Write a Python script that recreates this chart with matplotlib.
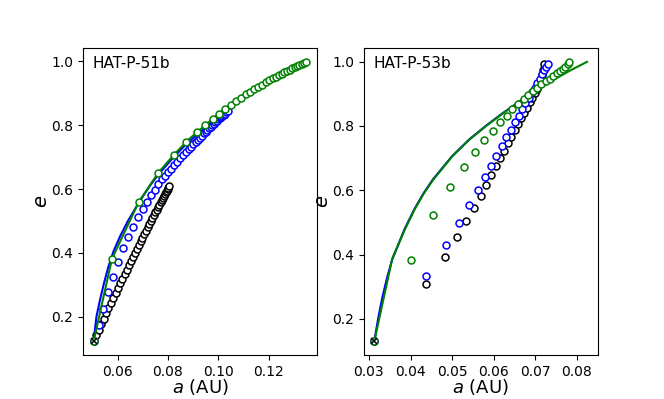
"""Eccentricity vs semi-major axis tracks for HAT-P-51b and HAT-P-53b."""

import matplotlib
matplotlib.use("Agg")
import matplotlib.pyplot as plt

# ---- HAT-P-51b ----
p51_start = (0.0505, 0.124)

p51_black_a = [0.0505, 0.0516, 0.0525, 0.0535, 0.0545, 0.0554, 0.0564, 0.0573, 0.0582,
               0.0592, 0.0601, 0.0610, 0.0619, 0.0628, 0.0636, 0.0645, 0.0653, 0.0661,
               0.0669, 0.0677, 0.0684, 0.0692, 0.0699, 0.0706, 0.0713, 0.0720, 0.0726,
               0.0732, 0.0738, 0.0744, 0.0750, 0.0756, 0.0761, 0.0766, 0.0771, 0.0776,
               0.0780, 0.0784, 0.0789, 0.0793, 0.0796, 0.0799, 0.0802, 0.0805]
p51_black_e = [0.124, 0.143, 0.160, 0.177, 0.194, 0.211, 0.227, 0.243, 0.259,
               0.275, 0.290, 0.305, 0.320, 0.334, 0.348, 0.362, 0.375, 0.388,
               0.401, 0.413, 0.425, 0.437, 0.448, 0.459, 0.470, 0.480, 0.490,
               0.500, 0.509, 0.518, 0.527, 0.535, 0.543, 0.551, 0.558, 0.565,
               0.572, 0.578, 0.584, 0.590, 0.595, 0.600, 0.604, 0.608]

p51_blue_a = [0.0505, 0.0528, 0.0544, 0.0561, 0.0581, 0.0602, 0.0623, 0.0643, 0.0663,
              0.0683, 0.0701, 0.0718, 0.0734, 0.0748, 0.0762, 0.0775, 0.0788, 0.0800,
              0.0813, 0.0826, 0.0838, 0.0850, 0.0861, 0.0872, 0.0882, 0.0892, 0.0901,
              0.0910, 0.0919, 0.0927, 0.0935, 0.0943, 0.0950, 0.0957, 0.0964, 0.0971,
              0.0977, 0.0983, 0.0989, 0.0995, 0.1001, 0.1007, 0.1012, 0.1017, 0.1022,
              0.1027, 0.1032, 0.1037]
p51_blue_e = [0.124, 0.173, 0.225, 0.277, 0.326, 0.373, 0.414, 0.450, 0.482,
              0.511, 0.536, 0.559, 0.580, 0.598, 0.615, 0.630, 0.642, 0.653,
              0.664, 0.675, 0.685, 0.696, 0.705, 0.715, 0.724, 0.732, 0.740,
              0.747, 0.754, 0.761, 0.767, 0.774, 0.779, 0.785, 0.790, 0.795,
              0.800, 0.804, 0.809, 0.813, 0.818, 0.822, 0.826, 0.829, 0.833,
              0.836, 0.840, 0.843]

p51_green_a = [0.0505, 0.0578, 0.0684, 0.0762, 0.0824, 0.0871, 0.0914, 0.0948, 0.0978,
               0.1004, 0.1028, 0.1051, 0.1071, 0.1091, 0.1111, 0.1128, 0.1144, 0.1160,
               0.1175, 0.1190, 0.1203, 0.1216, 0.1228, 0.1240, 0.1252, 0.1263, 0.1274,
               0.1284, 0.1295, 0.1304, 0.1314, 0.1323, 0.1332, 0.1341, 0.1350]
p51_green_e = [0.124, 0.382, 0.559, 0.651, 0.707, 0.746, 0.777, 0.799, 0.820,
               0.836, 0.851, 0.864, 0.875, 0.886, 0.896, 0.905, 0.913, 0.920,
               0.927, 0.934, 0.940, 0.946, 0.951, 0.956, 0.961, 0.966, 0.970,
               0.974, 0.978, 0.982, 0.986, 0.989, 0.992, 0.995, 0.998]

p51_bline_a = [0.0505, 0.0516, 0.0530, 0.0546, 0.0563, 0.0584, 0.0610, 0.0640, 0.0684,
               0.0730, 0.0762, 0.0824, 0.0871, 0.0914, 0.0948, 0.0978, 0.1004, 0.1037]
p51_bline_e = [0.124, 0.200, 0.252, 0.305, 0.355, 0.405, 0.452, 0.498, 0.557,
               0.612, 0.645, 0.701, 0.739, 0.769, 0.791, 0.810, 0.826, 0.845]

# ---- HAT-P-53b ----
p53_start = (0.0313, 0.131)

p53_black_a = [0.0313, 0.0437, 0.0482, 0.0511, 0.0534, 0.0553, 0.0569, 0.0581, 0.0593,
               0.0605, 0.0616, 0.0625, 0.0634, 0.0642, 0.0650, 0.0658, 0.0666, 0.0673,
               0.0680, 0.0686, 0.0693, 0.0698, 0.0704, 0.0709, 0.0713, 0.0716, 0.0719,
               0.0720]
p53_black_e = [0.131, 0.308, 0.392, 0.454, 0.504, 0.545, 0.583, 0.616, 0.647,
               0.674, 0.700, 0.723, 0.746, 0.766, 0.787, 0.806, 0.823, 0.841,
               0.857, 0.873, 0.888, 0.903, 0.916, 0.930, 0.944, 0.958, 0.975,
               0.992]

p53_blue_a = [0.0313, 0.0438, 0.0486, 0.0517, 0.0541, 0.0561, 0.0578, 0.0594, 0.0606,
              0.0619, 0.0630, 0.0641, 0.0650, 0.0660, 0.0668, 0.0676, 0.0684, 0.0691,
              0.0698, 0.0704, 0.0710, 0.0716, 0.0721, 0.0725, 0.0730]
p53_blue_e = [0.131, 0.332, 0.429, 0.498, 0.554, 0.601, 0.640, 0.675, 0.707,
              0.736, 0.764, 0.788, 0.811, 0.832, 0.851, 0.870, 0.887, 0.904,
              0.919, 0.934, 0.947, 0.961, 0.973, 0.983, 0.992]

p53_green_a = [0.0313, 0.0401, 0.0455, 0.0496, 0.0528, 0.0554, 0.0577, 0.0597, 0.0615,
               0.0631, 0.0645, 0.0659, 0.0672, 0.0683, 0.0694, 0.0705, 0.0714, 0.0725,
               0.0734, 0.0743, 0.0751, 0.0758, 0.0766, 0.0772, 0.0778, 0.0782]
p53_green_e = [0.131, 0.384, 0.524, 0.611, 0.673, 0.720, 0.756, 0.785, 0.811,
               0.832, 0.851, 0.869, 0.883, 0.896, 0.909, 0.919, 0.930, 0.939,
               0.947, 0.955, 0.963, 0.970, 0.977, 0.984, 0.992, 0.999]

p53_gline_a = [0.0313, 0.0356, 0.0386, 0.0410, 0.0432, 0.0454, 0.0500, 0.0542, 0.0582,
               0.0622, 0.0662, 0.0702, 0.0742, 0.0782, 0.0824]
p53_gline_e = [0.131, 0.387, 0.477, 0.541, 0.590, 0.632, 0.705, 0.758, 0.800,
               0.839, 0.875, 0.910, 0.942, 0.971, 0.999]
p53_bline_a = [0.0313, 0.0322, 0.0332, 0.0344, 0.0356, 0.0386, 0.0410, 0.0432, 0.0454,
               0.0500, 0.0542, 0.0582, 0.0622, 0.0662, 0.0702]
p53_bline_e = [0.131, 0.200, 0.265, 0.330, 0.385, 0.480, 0.543, 0.592, 0.634,
               0.706, 0.759, 0.801, 0.840, 0.876, 0.910]

MS = 5
MEW = 1.1


def circles(ax, a, e, color, z):
    ax.plot(a, e, "o", ls="none", ms=MS, mew=MEW, mfc="white", mec=color, zorder=z)


fig, (ax1, ax2) = plt.subplots(1, 2, figsize=(6.64, 3.99), dpi=100)

# left panel
circles(ax1, p51_black_a, p51_black_e, "k", 2)
circles(ax1, p51_blue_a, p51_blue_e, "b", 3)
ax1.plot(p51_bline_a, p51_bline_e, color="b", lw=1.5, zorder=4)
ax1.plot(p51_green_a, p51_green_e, color="g", lw=1.5, zorder=5)
circles(ax1, p51_green_a, p51_green_e, "g", 6)
ax1.plot(*p51_start, "x", color="k", ms=5, mew=1.1, zorder=7)
ax1.text(0.04, 0.975, "HAT-P-51b", transform=ax1.transAxes, va="top", ha="left", fontsize=11)

# right panel
circles(ax2, p53_black_a, p53_black_e, "k", 2)
circles(ax2, p53_blue_a, p53_blue_e, "b", 3)
ax2.plot(p53_bline_a, p53_bline_e, color="b", lw=1.5, zorder=4)
ax2.plot(p53_gline_a, p53_gline_e, color="g", lw=1.5, zorder=5)
circles(ax2, p53_green_a, p53_green_e, "g", 6)
ax2.plot(*p53_start, "x", color="k", ms=5, mew=1.1, zorder=7)
ax2.text(0.04, 0.975, "HAT-P-53b", transform=ax2.transAxes, va="top", ha="left", fontsize=11)

for ax in (ax1, ax2):
    ax.set_xlabel("$a$ (AU)", fontsize=13, labelpad=-1)
    ax.set_ylabel("$e$", fontsize=14, labelpad=0)
    ax.set_yticks([0.2, 0.4, 0.6, 0.8, 1.0])

ax1.set_xticks([0.06, 0.08, 0.10, 0.12])
ax2.set_xticks([0.03, 0.04, 0.05, 0.06, 0.07, 0.08])

fig.savefig("out.png", dpi=100)
